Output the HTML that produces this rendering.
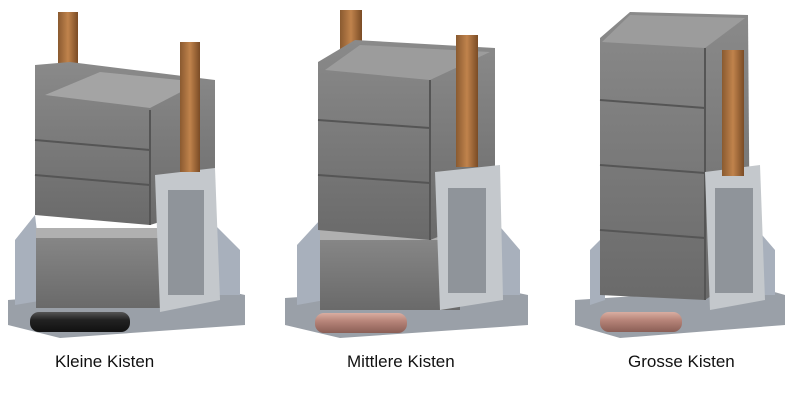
<!DOCTYPE html>
<html><head><meta charset="utf-8"><style>
html,body{margin:0;padding:0;background:#fff;width:800px;height:403px;overflow:hidden}
.l{position:absolute;top:352px;font:17px "Liberation Sans",sans-serif;color:#111}
</style></head><body>
<svg width="800" height="403" style="position:absolute;left:0;top:0">
<defs>
<linearGradient id="wood" x1="0" x2="1"><stop offset="0" stop-color="#8a5a30"/><stop offset=".5" stop-color="#c0834c"/><stop offset="1" stop-color="#7a4b25"/></linearGradient>
<linearGradient id="box" x1="0" y1="0" x2="0" y2="1"><stop offset="0" stop-color="#8a8a8a"/><stop offset="1" stop-color="#6a6a6a"/></linearGradient>
<linearGradient id="rollB" x1="0" y1="0" x2="0" y2="1"><stop offset="0" stop-color="#555"/><stop offset=".4" stop-color="#222"/><stop offset="1" stop-color="#111"/></linearGradient>
<linearGradient id="rollP" x1="0" y1="0" x2="0" y2="1"><stop offset="0" stop-color="#d9aea2"/><stop offset=".4" stop-color="#b8857a"/><stop offset="1" stop-color="#8a5e55"/></linearGradient>
</defs>

<!-- LEFT -->
<g>
<rect x="58" y="12" width="20" height="85" fill="url(#wood)"/>
<polygon points="8,300 200,285 245,295 245,325 60,338 8,325" fill="#9aa0a8"/>
<rect x="30" y="312" width="100" height="20" rx="9" fill="url(#rollB)"/>
<polygon points="15,240 35,215 45,300 15,305" fill="#a8b0bc"/>
<polygon points="205,215 240,250 240,295 205,295" fill="#a8b0bc"/>
<rect x="36" y="228" width="140" height="80" fill="url(#box)"/>
<rect x="36" y="228" width="140" height="10" fill="#b0b0b0"/>
<polygon points="35,65 70,62 215,80 215,205 150,225 35,215" fill="url(#box)"/>
<polygon points="45,95 100,72 200,82 150,108" fill="#a4a4a4"/>
<line x1="35" y1="140" x2="150" y2="150" stroke="#555" stroke-width="2"/>
<line x1="35" y1="175" x2="150" y2="185" stroke="#555" stroke-width="2"/>
<line x1="150" y1="110" x2="150" y2="225" stroke="#555" stroke-width="2"/>
<polygon points="155,175 215,168 220,300 160,312" fill="#c4c8cc"/>
<rect x="168" y="190" width="36" height="105" fill="#8f949a"/>
<rect x="180" y="42" width="20" height="130" fill="url(#wood)"/>
</g>

<!-- MIDDLE -->
<g>
<rect x="340" y="10" width="22" height="50" fill="url(#wood)"/>
<polygon points="285,298 480,285 528,295 528,325 340,338 285,325" fill="#9aa0a8"/>
<rect x="315" y="313" width="92" height="20" rx="9" fill="url(#rollP)"/>
<polygon points="297,245 320,220 325,300 297,305" fill="#a8b0bc"/>
<polygon points="490,215 520,250 520,295 490,295" fill="#a8b0bc"/>
<rect x="320" y="230" width="140" height="80" fill="url(#box)"/>
<rect x="320" y="230" width="140" height="10" fill="#b0b0b0"/>
<polygon points="318,62 355,40 495,48 495,215 430,240 318,230" fill="url(#box)"/>
<polygon points="325,70 360,45 490,52 430,80" fill="#9c9c9c"/>
<line x1="318" y1="120" x2="430" y2="128" stroke="#555" stroke-width="2"/>
<line x1="318" y1="175" x2="430" y2="183" stroke="#555" stroke-width="2"/>
<line x1="430" y1="80" x2="430" y2="240" stroke="#555" stroke-width="2"/>
<polygon points="435,172 500,165 503,300 440,310" fill="#c4c8cc"/>
<rect x="448" y="188" width="38" height="105" fill="#8f949a"/>
<rect x="456" y="35" width="22" height="132" fill="url(#wood)"/>
</g>

<!-- RIGHT -->
<g>
<polygon points="575,300 760,288 785,295 785,325 620,338 575,325" fill="#9aa0a8"/>
<rect x="600" y="312" width="82" height="20" rx="9" fill="url(#rollP)"/>
<polygon points="590,250 605,235 605,300 590,305" fill="#a8b0bc"/>
<polygon points="745,215 775,250 775,295 745,295" fill="#a8b0bc"/>
<polygon points="600,38 630,12 748,15 750,270 705,300 600,295" fill="url(#box)"/>
<polygon points="602,42 630,15 745,18 705,48" fill="#9c9c9c"/>
<line x1="600" y1="100" x2="705" y2="108" stroke="#555" stroke-width="2"/>
<line x1="600" y1="165" x2="705" y2="173" stroke="#555" stroke-width="2"/>
<line x1="600" y1="230" x2="705" y2="238" stroke="#555" stroke-width="2"/>
<line x1="705" y1="48" x2="705" y2="300" stroke="#555" stroke-width="2"/>
<polygon points="705,172 760,165 765,300 710,310" fill="#c4c8cc"/>
<rect x="715" y="188" width="38" height="105" fill="#8f949a"/>
<rect x="722" y="50" width="22" height="126" fill="url(#wood)"/>
</g>
</svg>
<div class="l" style="left:55px">Kleine Kisten</div>
<div class="l" style="left:347px">Mittlere Kisten</div>
<div class="l" style="left:628px">Grosse Kisten</div>
</body></html>
